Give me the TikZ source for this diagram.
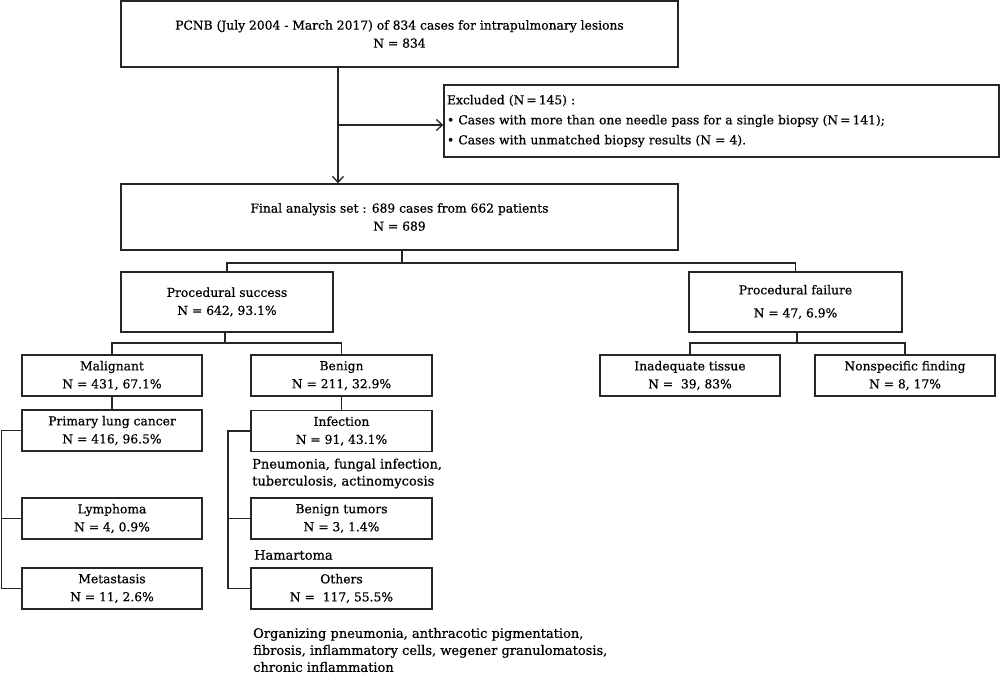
\documentclass[tikz,border=0pt]{standalone}
\usepackage{fontspec}
\setmainfont{DejaVu Serif}[FakeBold=0.6]
\usetikzlibrary{arrows.meta}
\begin{document}
\begin{tikzpicture}[x=1pt,y=-1pt,
  box/.style={draw=black!85,line width=1.4pt,inner sep=0pt,align=center,
    font=\fontsize{12.3}{18}\selectfont},
  note/.style={inner sep=0pt,align=left,anchor=west,
    font=\fontsize{13}{17}\selectfont},
  conn/.style={draw=black!85,line width=1.4pt},
  arr/.style={conn,-{Straight Barb[length=6pt,width=11pt,line width=1.3pt]}}]
\useasboundingbox[fill=white] (0,0) rectangle (1000,683);
% boxes
\node[box,minimum width=557pt,minimum height=66pt] (top) at (399.5,34)
  {PCNB (July 2004 - March 2017) of 834 cases for intrapulmonary lesions\\N = 834};
\node[box,minimum width=555pt,minimum height=72pt,align=left,text width=549pt,
  font=\fontsize{12.3}{20}\selectfont] (excl) at (721.5,121)
  {Excluded (N\,=\,145) :\\
   • Cases with more than one needle pass for a single biopsy (N\,=\,141);\\
   • Cases with unmatched biopsy results (N = 4).};
\node[box,minimum width=557pt,minimum height=66pt] (final) at (399.5,217)
  {Final analysis set : 689 cases from 662 patients\\N = 689};
\node[box,minimum width=212pt,minimum height=60pt] (success) at (227,302)
  {Procedural success\\N = 642, 93.1\%};
\node[box,minimum width=213pt,minimum height=60pt,
  font=\fontsize{12.3}{23}\selectfont] (failure) at (795.5,302)
  {Procedural failure\\N = 47, 6.9\%};
\node[box,minimum width=180pt,minimum height=41pt] (malig) at (112,375.5)
  {Malignant\\N = 431, 67.1\%};
\node[box,minimum width=181pt,minimum height=41pt] (benign) at (341.5,375.5)
  {Benign\\N = 211, 32.9\%};
\node[box,minimum width=180pt,minimum height=41pt] (primary) at (112,430.5)
  {Primary lung cancer\\N = 416, 96.5\%};
\node[box,minimum width=181pt,minimum height=41pt] (infect) at (341.5,431)
  {Infection\\N = 91, 43.1\%};
\node[box,minimum width=180pt,minimum height=41pt] (lymph) at (112,518.5)
  {Lymphoma\\N = 4, 0.9\%};
\node[box,minimum width=180pt,minimum height=41pt] (meta) at (112,588.5)
  {Metastasis\\N = 11, 2.6\%};
\node[box,minimum width=181pt,minimum height=41pt] (btum) at (341.5,518.5)
  {Benign tumors\\N = 3, 1.4\%};
\node[box,minimum width=181pt,minimum height=41pt] (others) at (341.5,588.5)
  {Others\\N = ~117, 55.5\%};
\node[box,minimum width=180pt,minimum height=41pt] (inadeq) at (690,375.5)
  {Inadequate tissue\\N = ~39, 83\%};
\node[box,minimum width=180pt,minimum height=41pt] (nonspec) at (905,375.5)
  {Nonspecific finding\\N = 8, 17\%};
% free texts
\node[note] (infnote) at (252,473.5)
  {Pneumonia, fungal infection,\\tuberculosis, actinomycosis};
\node[note] (hamnote) at (254,555) {Hamartoma};
\node[note] (othnote) at (253,650)
  {Organizing pneumonia, anthracotic pigmentation,\\
   fibrosis, inflammatory cells, wegener granulomatosis,\\
   chronic inflammation};
% connectors
\coordinate (split) at (338,125);
\draw[arr] (top.south -| split) -- (final.north -| split);
\draw[arr] (split) -- (split -| excl.west);
\coordinate (b1) at (402,263);
\draw[conn] (final.south -| b1) -- (b1);
\draw[conn] (success.north) |- (b1) -| (failure.north);
\coordinate (b2) at (225,343);
\draw[conn] (success.south -| b2) -- (b2);
\draw[conn] (malig.north) |- (b2) -| (benign.north);
\draw[conn] (malig.south) -- (primary.north);
\draw[conn] (benign.south) -- (infect.north);
\coordinate (b3) at (797,343);
\draw[conn] (failure.south -| b3) -- (b3);
\draw[conn] (inadeq.north) |- (b3) -| (nonspec.north);
\coordinate (lx) at (1.5,0);
\draw[conn] (primary.west) -- (lx |- primary.west) |- (meta.west);
\draw[conn] (lymph.west) -- (lx |- lymph.west);
\coordinate (rx) at (228,0);
\draw[conn] (infect.west) -- (rx |- infect.west) |- (others.west);
\draw[conn] (btum.west) -- (rx |- btum.west);
\end{tikzpicture}
\end{document}
